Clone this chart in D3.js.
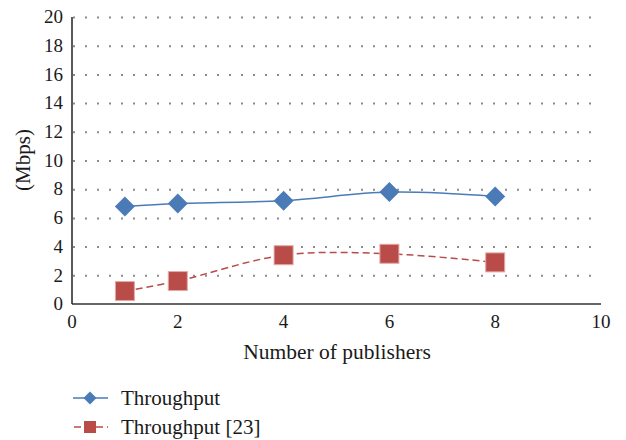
<!DOCTYPE html>
<html><head><meta charset="utf-8">
<script src="https://cdn.jsdelivr.net/npm/d3@7"></script>
</head><body style="margin:0;background:#fff"><svg id="c" width="626" height="440" font-family="Liberation Serif" style="display:block"></svg>
<script>
const publishers = [1, 2, 4, 6, 8];
const throughput = [6.8, 7.0, 7.2, 7.8, 7.5];
const throughputRef = [0.9, 1.6, 3.4, 3.5, 2.9];
const xTicks = [0, 2, 4, 6, 8, 10];
const yTicks = [0, 2, 4, 6, 8, 10, 12, 14, 16, 18, 20];
const seriesNames = ["Throughput", "Throughput [23]"];

const FONT = "Liberation Serif";
const svg = d3.select("#c");
const x = d3.scaleLinear().domain([0, 10]).range([72, 601]);
const y = d3.scaleLinear().domain([0, 20]).range([304, 17]);

function txt(sel) { return sel.attr("font-family", FONT).attr("fill", "#1a1a1a"); }

// grid
svg.append("g").selectAll("line").data(yTicks.filter(d => d > 0)).join("line")
  .attr("x1", x(0) + 1).attr("x2", x(10)).attr("y1", d => y(d) + 0.5).attr("y2", d => y(d) + 0.5)
  .attr("stroke", "#8a8a8a").attr("stroke-width", 2).attr("stroke-dasharray", "2,10").attr("stroke-dashoffset", -12);

// axes
svg.append("line").attr("x1", x(0)).attr("x2", x(10)).attr("y1", y(0)).attr("y2", y(0)).attr("stroke", "#333").attr("stroke-width", 1.5);
svg.append("line").attr("x1", x(0)).attr("x2", x(0)).attr("y1", y(0)).attr("y2", y(20)).attr("stroke", "#222").attr("stroke-width", 1.5);

txt(svg.append("g").selectAll("text").data(yTicks).join("text"))
  .attr("x", 63).attr("y", d => y(d)).attr("dy", "0.33em").attr("text-anchor", "end")
  .attr("font-size", 19).text(d => d);
txt(svg.append("g").selectAll("text").data(xTicks).join("text"))
  .attr("x", d => x(d)).attr("y", 322).attr("dy", "0.33em").attr("text-anchor", "middle")
  .attr("font-size", 19).text(d => d);

txt(svg.append("text")).attr("transform", "translate(23,160) rotate(-90)").attr("text-anchor", "middle")
  .attr("dy", "0.33em").attr("font-size", 21).text("(Mbps)");
txt(svg.append("text")).attr("x", 337).attr("y", 352).attr("dy", "0.33em").attr("text-anchor", "middle")
  .attr("font-size", 21.5).text("Number of publishers");

const blue = "#4a7bb7", red = "#b94b48";
const line = d3.line().x(d => x(d[0])).y(d => y(d[1])).curve(d3.curveCatmullRom.alpha(0.5));
const dBlue = publishers.map((p, i) => [p, throughput[i]]);
const dRed = publishers.map((p, i) => [p, throughputRef[i]]);

svg.append("path").attr("d", line(dBlue)).attr("fill", "none").attr("stroke", blue).attr("stroke-width", 1.5);
svg.append("path").attr("d", line(dRed)).attr("fill", "none").attr("stroke", red).attr("stroke-width", 1.5).attr("stroke-dasharray", "7,4");

const diamond = s => `M0,${-s}L${s},0L0,${s}L${-s},0Z`;
svg.append("g").selectAll("path").data(dBlue).join("path")
  .attr("transform", d => `translate(${x(d[0])},${y(d[1])})`).attr("d", diamond(10)).attr("fill", blue);
svg.append("g").selectAll("rect").data(dRed).join("rect")
  .attr("x", d => x(d[0]) - 9.5).attr("y", d => y(d[1]) - 9.5).attr("width", 19).attr("height", 19)
  .attr("fill", red).attr("stroke", "#e3aaa8").attr("stroke-width", 1);

// legend
const lg = svg.append("g");
lg.append("line").attr("x1", 73).attr("x2", 108).attr("y1", 398).attr("y2", 398).attr("stroke", blue).attr("stroke-width", 1.5);
lg.append("path").attr("transform", "translate(90,398)").attr("d", diamond(6.5)).attr("fill", blue);
txt(lg.append("text")).attr("x", 121).attr("y", 398).attr("dy", "0.33em").attr("font-size", 21).text(seriesNames[0]);
lg.append("line").attr("x1", 73).attr("x2", 108).attr("y1", 427).attr("y2", 427).attr("stroke", red).attr("stroke-width", 1.5).attr("stroke-dasharray", "7,4").attr("stroke-dashoffset", -1);
lg.append("rect").attr("x", 84).attr("y", 421).attr("width", 12).attr("height", 12).attr("fill", red);
txt(lg.append("text")).attr("x", 121).attr("y", 427).attr("dy", "0.33em").attr("font-size", 21).text(seriesNames[1]);
</script></body></html>
